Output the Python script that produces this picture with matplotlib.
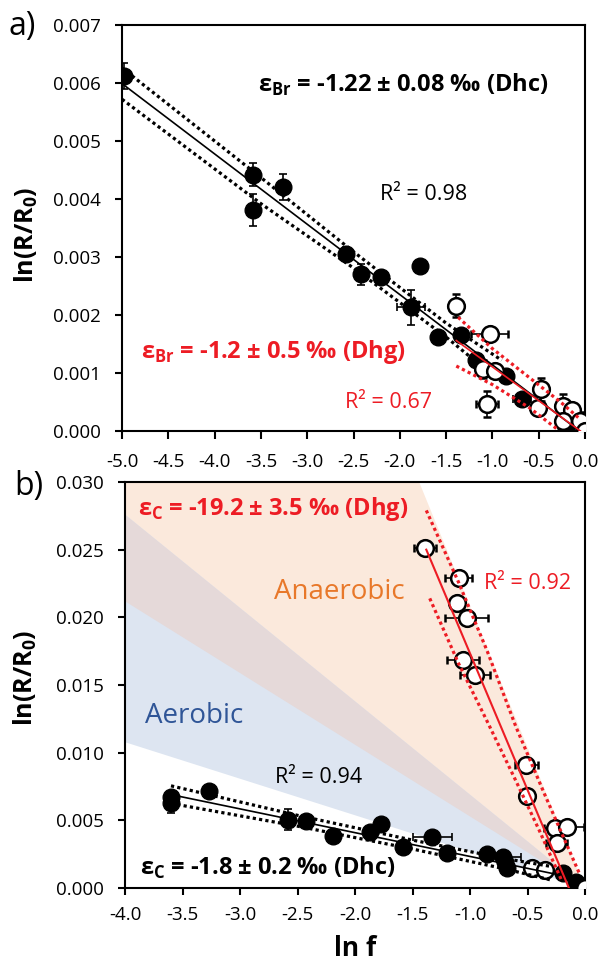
import numpy as np
import matplotlib
matplotlib.use('Agg')
import matplotlib.pyplot as plt

plt.rcParams['font.family'] = ['Open Sans', 'DejaVu Sans']
plt.rcParams['mathtext.fontset'] = 'custom'
plt.rcParams['mathtext.rm'] = 'Open Sans'
plt.rcParams['mathtext.bf'] = 'Open Sans:bold'
plt.rcParams['axes.unicode_minus'] = False

RED = '#ed1c24'

# ---------------- panel a: bromine ----------------
a_dhc_x = [-4.98, -3.58, -3.58, -3.26, -2.58, -2.42, -2.20, -1.78, -1.88, -1.59, -1.34, -1.18, -0.85, -0.68, -0.21]
a_dhc_y = [6.12, 4.42, 3.81, 4.21, 3.05, 2.70, 2.65, 2.84, 2.13, 1.62, 1.66, 1.23, 0.95, 0.55, 0.06]
a_dhc_yerr = [0.22, 0.20, 0.27, 0.22, 0.12, 0.18, 0.08, 0.10, 0.30, 0.05, 0.08, 0.10, 0.10, 0.10, 0.05]
a_dhc_xerr = [0.05, 0.03, 0.03, 0.03, 0.05, 0.03, 0.03, 0.03, 0.15, 0.03, 0.05, 0.05, 0.05, 0.10, 0.05]

a_dhg_x = [-1.39, -1.03, -1.10, -0.97, -1.06, -0.48, -0.51, -0.24, -0.14, -0.05, -0.24, 0.0]
a_dhg_y = [2.16, 1.68, 1.07, 1.03, 0.47, 0.72, 0.40, 0.43, 0.37, 0.17, 0.17, 0.0]
a_dhg_yerr = [0.20, 0.08, 0.15, 0.10, 0.22, 0.20, 0.10, 0.20, 0.10, 0.15, 0.10, 0.0]
a_dhg_xerr = [0.05, 0.20, 0.05, 0.05, 0.12, 0.05, 0.05, 0.05, 0.05, 0.08, 0.05, 0.0]

# trendlines and confidence bands
a_fit_dhc_x = [-5.0, -0.06]
a_fit_dhc_y = [5.99, 0.0]
a_up_dhc_x = [-5.0, -3.5, -2.5, -1.5, -0.9]
a_up_dhc_y = [6.26, 4.37, 3.09, 1.86, 1.22]
a_lo_dhc_x = [-5.0, -3.5, -2.5, -1.5, -1.15]
a_lo_dhc_y = [5.72, 3.92, 2.81, 1.62, 1.16]

a_fit_dhg_x = [-1.39, -0.05]
a_fit_dhg_y = [1.56, 0.0]
a_up_dhg_x = [-1.37, -1.0, -0.6, -0.25, -0.05]
a_up_dhg_y = [1.96, 1.42, 0.92, 0.48, 0.20]
a_lo_dhg_x = [-1.39, -1.0, -0.6, -0.29]
a_lo_dhg_y = [1.12, 0.80, 0.40, 0.02]

# ---------------- panel b: carbon ----------------
b_dhc_x = [-3.60, -3.60, -3.27, -2.58, -2.43, -2.19, -1.87, -1.77, -1.58, -1.33, -1.20, -0.855, -0.71, -0.68, -0.70, -0.19, -0.08]
b_dhc_y = [6.30, 6.70, 7.14, 5.05, 4.93, 3.82, 4.15, 4.70, 3.05, 3.75, 2.58, 2.50, 2.31, 1.45, 1.95, 1.08, 0.45]
b_dhc_yerr = [0.75, 0.30, 0.20, 0.80, 0.30, 0.20, 0.30, 0.30, 0.20, 0.20, 0.20, 0.20, 0.30, 0.30, 0.20, 0.20, 0.20]
b_dhc_xerr = [0.03, 0.03, 0.03, 0.03, 0.03, 0.03, 0.03, 0.03, 0.03, 0.17, 0.03, 0.03, 0.15, 0.03, 0.03, 0.05, 0.05]

b_open_x = [-0.463, -0.348, 0.0]
b_open_y = [1.45, 1.33, 0.0]

b_dhg_x = [-1.39, -1.10, -1.116, -1.03, -1.058, -0.957, -0.513, -0.507, -0.26, -0.159, -0.246]
b_dhg_y = [25.15, 22.9, 21.04, 19.93, 16.85, 15.74, 9.09, 6.80, 4.41, 4.53, 3.30]
b_dhg_xerr = [0.093, 0.116, 0.06, 0.19, 0.14, 0.13, 0.10, 0.03, 0.10, 0.15, 0.09]

b_fit_dhc_x = [-3.6, -0.1]
b_fit_dhc_y = [6.9, 0.75]
b_up_dhc_x = [-3.6, -2.5, -1.5, -0.7, -0.3]
b_up_dhc_y = [7.55, 5.37, 3.54, 2.18, 1.60]
b_lo_dhc_x = [-3.6, -2.5, -1.5, -0.7, -0.3]
b_lo_dhc_y = [6.25, 4.57, 2.88, 1.42, 0.60]

b_fit_dhg_x = [-1.38, -0.14]
b_fit_dhg_y = [25.0, 0.0]
b_up_dhg_x = [-1.38, -1.1, -0.85, -0.6, -0.35, -0.05]
b_up_dhg_y = [27.9, 22.6, 17.5, 11.9, 6.9, 1.1]
b_lo_dhg_x = [-1.35, -1.1, -0.85, -0.6, -0.4, -0.2]
b_lo_dhg_y = [21.4, 16.6, 12.3, 7.9, 4.3, 0.5]

# literature ranges of epsilon C (permil)
aerobic_eps = [-2.7, -6.9]
anaerobic_eps = [-5.3, -20.8]

a_xticks = [-5.0, -4.5, -4.0, -3.5, -3.0, -2.5, -2.0, -1.5, -1.0, -0.5, 0.0]
a_yticks = [0.000, 0.001, 0.002, 0.003, 0.004, 0.005, 0.006, 0.007]
b_xticks = [-4.0, -3.5, -3.0, -2.5, -2.0, -1.5, -1.0, -0.5, 0.0]
b_yticks = [0.000, 0.005, 0.010, 0.015, 0.020, 0.025, 0.030]

fig = plt.figure(figsize=(5.99, 9.72), dpi=100)
ax_a = fig.add_axes([122/599, 1-431/972, 463/599, 406/972])
ax_b = fig.add_axes([125/599, 1-888/972, 460/599, 406/972])

pt_kw = dict(fmt='o', ms=12, ecolor='k', elinewidth=1.2, capsize=3, capthick=1.2)
dot = (0, (1, 1))


def milli(v):
    return np.array(v) * 1e-3


# ---- panel a
ax_a.errorbar(a_dhc_x, milli(a_dhc_y), yerr=milli(a_dhc_yerr), xerr=a_dhc_xerr,
              mfc='k', mec='k', zorder=3, **pt_kw)
ax_a.errorbar(a_dhg_x, milli(a_dhg_y), yerr=milli(a_dhg_yerr), xerr=a_dhg_xerr,
              mfc='white', mec='k', mew=1.8, zorder=4, **pt_kw)
ax_a.plot(a_fit_dhc_x, milli(a_fit_dhc_y), color='k', lw=1.2, zorder=5)
ax_a.plot(a_up_dhc_x, milli(a_up_dhc_y), color='k', lw=2.3, ls=dot, zorder=5)
ax_a.plot(a_lo_dhc_x, milli(a_lo_dhc_y), color='k', lw=2.3, ls=dot, zorder=5)
ax_a.plot(a_fit_dhg_x, milli(a_fit_dhg_y), color=RED, lw=1.2, zorder=5)
ax_a.plot(a_up_dhg_x, milli(a_up_dhg_y), color=RED, lw=2.3, ls=dot, zorder=5)
ax_a.plot(a_lo_dhg_x, milli(a_lo_dhg_y), color=RED, lw=2.3, ls=dot, zorder=5)

ax_a.text(-1.96, 5.96e-3, r'ε$_\mathbf{Br}$ = -1.22 ± 0.08 ‰ (Dhc)', ha='center', va='center',
          fontsize=17, fontweight='bold', color='k')
ax_a.text(-1.74, 4.08e-3, 'R² = 0.98', ha='center', va='center', fontsize=15.5, color='k')
ax_a.text(-3.37, 1.37e-3, r'ε$_\mathbf{Br}$ = -1.2 ± 0.5 ‰ (Dhg)', ha='center', va='center',
          fontsize=17, fontweight='bold', color=RED)
ax_a.text(-2.125, 0.49e-3, 'R² = 0.67', ha='center', va='center', fontsize=15.5, color=RED)

ax_a.set_xlim(-5.0, 0.0)
ax_a.set_ylim(0.0, 0.007)
ax_a.set_xticks(a_xticks)
ax_a.set_xticklabels(['%.1f' % t for t in a_xticks])
ax_a.set_yticks(a_yticks)
ax_a.set_yticklabels(['%.3f' % t for t in a_yticks])
ax_a.tick_params(axis='x', direction='out', length=6, width=1.5, labelsize=13.5, pad=10)
ax_a.tick_params(axis='y', direction='out', length=5, width=1.5, labelsize=13.5, pad=10)

# ---- panel b
xs = np.array([-4.0, 0.0])
def band(eps):
    return eps / 1000.0 * xs

ax_b.fill_between(xs, band(anaerobic_eps[0]), band(anaerobic_eps[1]), color='#fbe9dc', lw=0, zorder=0)
ax_b.fill_between(xs, band(aerobic_eps[0]), band(aerobic_eps[1]), color='#dde5f1', lw=0, zorder=0)
ax_b.fill_between(xs, band(anaerobic_eps[0]), band(aerobic_eps[1]), color='#e5d9d9', lw=0, zorder=0)

ax_b.errorbar(b_dhc_x, milli(b_dhc_y), yerr=milli(b_dhc_yerr), xerr=b_dhc_xerr,
              mfc='k', mec='k', zorder=3, **pt_kw)
ax_b.errorbar(b_open_x, milli(b_open_y), mfc='white', mec='k', mew=1.8, zorder=4, **pt_kw)
ax_b.errorbar(b_dhg_x, milli(b_dhg_y), xerr=b_dhg_xerr,
              mfc='white', mec='k', mew=1.8, zorder=4, **pt_kw)
ax_b.plot(b_fit_dhc_x, milli(b_fit_dhc_y), color='k', lw=1.2, zorder=5)
ax_b.plot(b_up_dhc_x, milli(b_up_dhc_y), color='k', lw=2.3, ls=dot, zorder=5)
ax_b.plot(b_lo_dhc_x, milli(b_lo_dhc_y), color='k', lw=2.3, ls=dot, zorder=5)
ax_b.plot(b_fit_dhg_x, milli(b_fit_dhg_y), color=RED, lw=1.5, zorder=5)
ax_b.plot(b_up_dhg_x, milli(b_up_dhg_y), color=RED, lw=2.3, ls=dot, zorder=5)
ax_b.plot(b_lo_dhg_x, milli(b_lo_dhg_y), color=RED, lw=2.3, ls=dot, zorder=5)

ax_b.text(-2.71, 28.0e-3, r'ε$_\mathbf{C}$ = -19.2 ± 3.5 ‰ (Dhg)', ha='center', va='center',
          fontsize=17, fontweight='bold', color=RED)
ax_b.text(-2.135, 21.9e-3, 'Anaerobic', ha='center', va='center', fontsize=20, color='#e8782a')
ax_b.text(-0.50, 22.5e-3, 'R² = 0.92', ha='center', va='center', fontsize=15.5, color=RED)
ax_b.text(-3.40, 12.7e-3, 'Aerobic', ha='center', va='center', fontsize=20, color='#2f5597')
ax_b.text(-2.32, 8.2e-3, 'R² = 0.94', ha='center', va='center', fontsize=15.5, color='k')
ax_b.text(-2.76, 1.48e-3, r'ε$_\mathbf{C}$ = -1.8 ± 0.2 ‰ (Dhc)', ha='center', va='center',
          fontsize=17, fontweight='bold', color='k')

ax_b.set_xlim(-4.0, 0.0)
ax_b.set_ylim(0.0, 0.030)
ax_b.set_xticks(b_xticks)
ax_b.set_xticklabels(['%.1f' % t for t in b_xticks])
ax_b.set_yticks(b_yticks)
ax_b.set_yticklabels(['%.3f' % t for t in b_yticks])
ax_b.tick_params(axis='x', direction='out', length=5, width=1.5, labelsize=13.5, pad=8)
ax_b.tick_params(axis='y', direction='out', length=5, width=1.5, labelsize=13.5, pad=10)

for ax in (ax_a, ax_b):
    for sp in ax.spines.values():
        sp.set_linewidth(1.5)

fig.text(26/599, 1-235/972, r'ln(R/R$_\mathbf{0}$)', rotation=90, ha='center', va='center',
         fontsize=18, fontweight='bold')
fig.text(25/599, 1-678/972, r'ln(R/R$_\mathbf{0}$)', rotation=90, ha='center', va='center',
         fontsize=18, fontweight='bold')
fig.text(355/599, 1-948/972, 'ln f', ha='center', va='center', fontsize=19, fontweight='bold')
fig.text(8/599, 1-26/972, 'a)', ha='left', va='center', fontsize=23)
fig.text(14/599, 1-487/972, 'b)', ha='left', va='center', fontsize=23)

fig.savefig('out.png', dpi=100)
